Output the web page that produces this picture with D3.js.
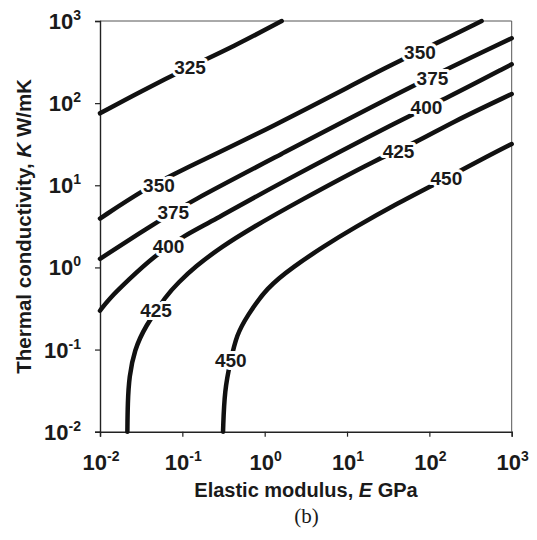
<!DOCTYPE html>
<html><head><meta charset="utf-8">
<script src="https://cdn.jsdelivr.net/npm/d3@7"></script>
<style>
html,body{margin:0;padding:0;background:#fff;}
svg{display:block;}
text{font-family:"Liberation Sans",Arial,sans-serif;fill:#1a1a1a;}
</style></head>
<body>
<svg id="chart" width="537" height="540"></svg>
<script>
// ---- data (E in GPa, K in W/mK) ----
const tickExponents = [-2, -1, 0, 1, 2, 3];
const levels = [325, 350, 375, 400, 425, 450];

const contour325 = [[0.01,75.2],[0.0306,137.8],[0.124,277.8],[0.416,486.5],[1.61,1000]];
const contour350 = [[0.01,3.94],[0.0336,8.77],[0.0814,14.0],[1.16,49.4],[44.0,335],[122.7,535],[431.5,1000]];
const contour375 = [[0.01,1.27],[0.0466,3.45],[0.124,6.31],[1.16,20.3],[70.1,174.5],[1000,615.8]];
const contour400 = [[0.01,0.297],[0.0125,0.402],[0.0221,0.703],[0.0444,1.35],[0.1077,2.48],[0.227,3.61],[1.16,9.19],[58.1,71.7],[147.5,109.2],[1000,297]];
const contour425 = [[0.0215,0.01],[0.0217,0.0224],[0.0226,0.0468],[0.0262,0.0989],[0.0352,0.190],[0.0646,0.462],[0.0886,0.647],[0.1425,1.02],[0.301,1.79],[0.695,3.02],[2.33,6.04],[26.4,22.3],[66.8,32.5],[178,56.9],[1000,129.2]];
const contour450 = [[0.312,0.01],[0.325,0.0322],[0.387,0.0747],[0.457,0.151],[0.604,0.251],[1.06,0.570],[2.23,1.02],[5.15,1.79],[11.9,3.0],[44.0,6.26],[101.7,9.61],[597,24.5],[1000,31.8]];
const contours = [contour325, contour350, contour375, contour400, contour425, contour450];

// contour label anchors
const labelText = ["325", "350", "350", "375", "375", "400", "400", "425", "425", "450", "450"];
const labelE = [0.124, 0.052, 76.9, 0.0777, 109, 0.0679, 92.2, 0.0479, 42.2, 0.387, 161];
const labelK = [278, 10.1, 419.5, 4.67, 202, 1.80, 88.5, 0.303, 25.8, 0.0747, 12.4];

// ---- drawing ----
const svg = d3.select("#chart");
const mLeft = 100, mRight = 511.7, mTop = 21, mBottom = 431.7;
const x = d3.scaleLog().domain([0.01, 1000]).range([mLeft, mRight]);
const y = d3.scaleLog().domain([0.01, 1000]).range([mBottom, mTop]);

// frame (top & right)
svg.append("path")
  .attr("d", `M${mLeft},${mTop}H${mRight}V${mBottom}`)
  .attr("fill", "none").attr("stroke", "#555").attr("stroke-width", 1);

// axes
const tickVals = tickExponents.map(e => Math.pow(10, e));
const xAxis = svg.append("g").attr("transform", `translate(0,${mBottom})`)
  .call(d3.axisBottom(x).tickValues(tickVals).tickSize(5).tickFormat(""));
const yAxis = svg.append("g").attr("transform", `translate(${mLeft},0)`)
  .call(d3.axisLeft(y).tickValues(tickVals).tickSize(5).tickFormat(""));
[xAxis, yAxis].forEach(g => {
  g.select(".domain").attr("stroke", "#222").attr("stroke-width", 1.4);
  g.selectAll(".tick line").attr("stroke", "#222").attr("stroke-width", 1.2);
});

// tick labels as 10^n
function powLabel(sel, e) {
  sel.append("tspan").text("10");
  sel.append("tspan").attr("dy", -9).attr("font-size", 14).text(String(e));
}
tickExponents.forEach(e => {
  const t = svg.append("text")
    .attr("x", x(Math.pow(10, e)) + 1).attr("y", 470)
    .attr("text-anchor", "middle").attr("font-size", 22).attr("font-weight", "bold");
  powLabel(t, e);
});
tickExponents.forEach(e => {
  const t = svg.append("text")
    .attr("x", 81).attr("y", y(Math.pow(10, e)) + 8)
    .attr("text-anchor", "end").attr("font-size", 22).attr("font-weight", "bold");
  powLabel(t, e);
});

// axis titles
const xt = svg.append("text").attr("x", 306).attr("y", 497)
  .attr("text-anchor", "middle").attr("font-size", 20).attr("font-weight", "bold");
xt.append("tspan").text("Elastic modulus, ");
xt.append("tspan").attr("font-style", "italic").text("E");
xt.append("tspan").text(" GPa");

const yt = svg.append("text")
  .attr("transform", `translate(31,${(mTop + mBottom) / 2}) rotate(-90)`)
  .attr("text-anchor", "middle").attr("font-size", 20.5).attr("font-weight", "bold");
yt.append("tspan").text("Thermal conductivity, ");
yt.append("tspan").attr("font-style", "italic").text("K");
yt.append("tspan").text("  W/mK");

svg.append("text").attr("x", 306.5).attr("y", 523)
  .attr("text-anchor", "middle").attr("font-size", 21)
  .style("font-family", "'Liberation Serif','Times New Roman',serif").text("(b)");

// contour lines
const line = d3.line().x(d => x(d[0])).y(d => y(d[1])).curve(d3.curveBasis);
svg.append("g").selectAll("path").data(contours).join("path")
  .attr("d", line).attr("fill", "none").attr("stroke", "#111")
  .attr("stroke-width", 4.5).attr("stroke-linecap", "round").attr("stroke-linejoin", "round");

// contour labels (white halo breaks the line)
svg.append("g").selectAll("text").data(labelText).join("text")
  .attr("x", (d, i) => x(labelE[i])).attr("y", (d, i) => y(labelK[i]) + 7)
  .attr("text-anchor", "middle").attr("font-size", 19).attr("font-weight", "bold")
  .attr("stroke", "#fff").attr("stroke-width", 6).attr("paint-order", "stroke")
  .attr("stroke-linejoin", "round")
  .text(d => d);
</script>
</body></html>
